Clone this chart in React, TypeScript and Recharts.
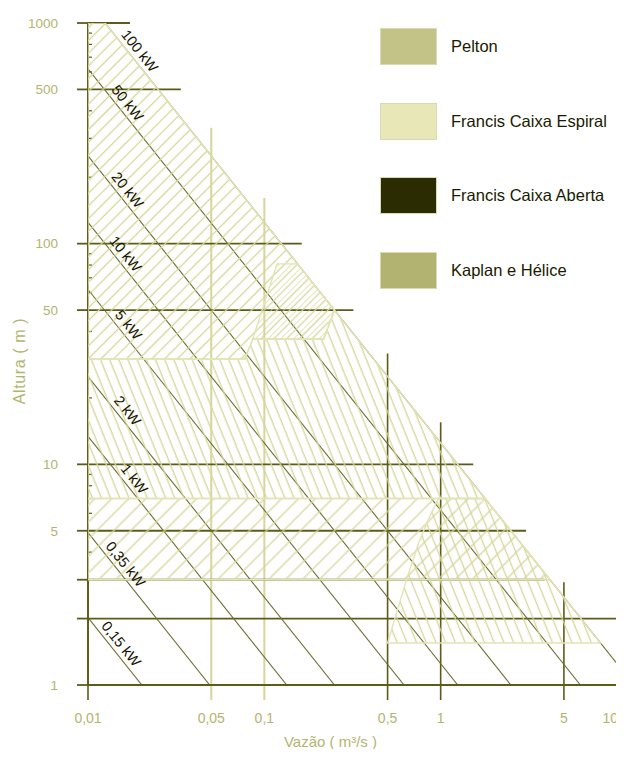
import React from 'react';
import { ComposedChart, XAxis, YAxis, Line, Scatter, ReferenceLine, Legend } from 'recharts';

// ---- axis ticks ----
const xMajorTicks = [0.01, 0.05, 0.1, 0.5, 1, 5, 10];
const xTickLabels = ['0,01', '0,05', '0,1', '0,5', '1', '5', '10'];
const xMinorTicks = [0.02, 0.03, 0.04, 0.06, 0.07, 0.08, 0.09, 0.2, 0.3, 0.4, 0.6, 0.7, 0.8, 0.9, 2, 3, 4, 6, 7, 8, 9];
const yMajorTicks = [1, 2, 3, 5, 10, 50, 100, 500, 1000];
const yTickLabels = ['1', '', '', '5', '10', '50', '100', '500', '1000'];
const yMinorTicks = [4, 6, 7, 8, 9, 20, 30, 40, 60, 70, 80, 90, 200, 300, 400, 600, 700, 800, 900];

// ---- constant power lines (Q*H product) ----
const powerLabels = ['100 kW', '50 kW', '20 kW', '10 kW', '5 kW', '2 kW', '1 kW', '0,35 kW', '0,15 kW'];
const powerQH = [12.5, 6.2, 2.5, 1.25, 0.62, 0.25, 0.134, 0.049, 0.0202];
const powerLabelQ = [0.0178, 0.0152, 0.0152, 0.0148, 0.0154, 0.0152, 0.0166, 0.0148, 0.014];

// ---- grid lines ----
const hLineH = [1000, 500, 100, 50, 10, 5, 3, 2];
const hLineEndQ = [0.0173, 0.0336, 0.163, 0.32, 1.53, 3.05, 3.88, 10];
const vLineQ = [0.01, 0.05, 0.1, 0.5, 1, 5, 10];
const vLineTopH = [1000, 335, 161, 31.8, 15.5, 2.92, 1.25];
const vLineLight = [false, true, true, false, false, false, false];
const gridBottomH = 0.855;

// ---- turbine regions (polygon vertices Q, H) ----
const peltonQ = [0.01, 0.01, 0.0125, 0.25, 0.217, 0.086, 0.0776];
const peltonH = [30, 1000, 1000, 50, 37, 37, 30];
const espiralTopQ = [0.086, 0.118, 0.154, 0.25, 0.217];
const espiralTopH = [37, 81, 81, 50, 37];
const espiralQ = [0.01, 0.01, 0.0776, 0.086, 0.217, 0.25, 1.786];
const espiralH = [7, 30, 30, 37, 37, 50, 7];
const abertaQ = [0.01, 0.01, 1.786, 4.17];
const abertaH = [3, 7, 7, 3];
const kaplanQ = [0.5, 0.64, 0.75, 0.85, 0.97, 1.786, 8.06];
const kaplanH = [1.55, 3, 4.4, 5.6, 7, 7, 1.55];

// ---- legend ----
const legendNames = ['Pelton', 'Francis Caixa Espiral', 'Francis Caixa Aberta', 'Kaplan e Hélice'];
const legendColors = ['#c3c387', '#e7e7b7', '#2c2c03', '#b3b371'];

const FONT = '"Liberation Sans", Arial, sans-serif';
const DARK = '#5c5c18';
const POWER = '#6c6c30';
const LIGHTV = '#d6d69c';
const HATCH = '#d6d69a';
const OUTLINE = '#e3e3b6';
const LABEL = '#b4b46e';

const toPoints = (qs: number[], hs: number[]) => qs.map((q, i) => ({ q, h: hs[i] }));

function makePolygon(id: string, angle: number, spacing: number, offset: number) {
  return (props: any) => {
    const pts = props.points || [];
    if (!pts.length) return <g />;
    const d = pts.map((p: any, i: number) => `${i ? 'L' : 'M'}${p.x},${p.y}`).join(' ') + ' Z';
    return (
      <g>
        <defs>
          <pattern id={id} patternUnits="userSpaceOnUse" width={spacing} height={spacing} patternTransform={`rotate(${angle})`}>
            <line x1={offset} y1={-1} x2={offset} y2={spacing + 1} stroke={HATCH} strokeWidth={1.3} />
          </pattern>
        </defs>
        <path d={d} fill={`url(#${id})`} stroke={OUTLINE} strokeWidth={1.4} />
      </g>
    );
  };
}

const regions = [
  { key: 'aberta', data: toPoints(abertaQ, abertaH), angle: 45, spacing: 12, offset: 6 },
  { key: 'espiral', data: toPoints(espiralQ, espiralH), angle: -22, spacing: 8.5, offset: 4 },
  { key: 'pelton', data: toPoints(peltonQ, peltonH), angle: 45, spacing: 9, offset: 4.5 },
  { key: 'espiralTop', data: toPoints(espiralTopQ, espiralTopH), angle: 45, spacing: 9, offset: 0 },
  { key: 'kaplan', data: toPoints(kaplanQ, kaplanH), angle: -22, spacing: 9, offset: 4.5 },
];

const powerLines = powerQH.map((qh) => {
  const q0 = Math.max(0.01, qh / 1000);
  const q1 = Math.min(10, qh / 1);
  return [{ q: q0, h: qh / q0 }, { q: q1, h: qh / q1 }];
});

const powerLabelData = powerLabels.map((text, i) => ({ q: powerLabelQ[i], h: powerQH[i] / powerLabelQ[i], text }));

const LabelShape = (props: any) => {
  const { cx, cy, payload } = props;
  if (cx == null || cy == null) return <g />;
  const x = cx + 7.5;
  const y = cy - 6;
  return (
    <text x={x} y={y} transform={`rotate(51.4 ${x} ${y})`} textAnchor="middle" dominantBaseline="central"
      fontSize={14.5} fill="#141400" fontFamily={FONT}>
      {payload && payload.text}
    </text>
  );
};

const XTick = (props: any) => {
  const { x, y, payload } = props;
  const idx = xMajorTicks.findIndex((t) => Math.abs(t - payload.value) < 1e-9 * t + 1e-12);
  const text = idx >= 0 ? xTickLabels[idx] : '';
  const last = idx === xMajorTicks.length - 1;
  return (
    <text x={last ? x + 1 : x} y={y} dy="0.71em" textAnchor={last ? 'end' : 'middle'} fontSize={14} fill={LABEL} fontFamily={FONT}>{text}</text>
  );
};

const renderLegend = () => (
  <div style={{ fontFamily: FONT }}>
    {legendNames.map((name, i) => (
      <div key={name} style={{ display: 'flex', alignItems: 'center', height: 37, marginBottom: 37.5 }}>
        <div style={{ width: 57, height: 37, background: legendColors[i], boxSizing: 'border-box', border: '1px solid #d9d9b4' }} />
        <span style={{ marginLeft: 14, fontSize: 16.5, color: '#1a1a00' }}>{name}</span>
      </div>
    ))}
  </div>
);

const blank = () => '';

export default function App() {
  return (
    <div style={{ width: 624, height: 741, margin: '0 0 0 -8px' }}>
      <ComposedChart width={624} height={741} margin={{ top: 15, right: 7, bottom: 0, left: 8 }}>
        <XAxis dataKey="q" type="number" scale="log" domain={[0.01, 10]} allowDataOverflow
          ticks={xMajorTicks} interval={0} height={64} tickLine={false} tickSize={15} tickMargin={13}
          axisLine={{ stroke: DARK, strokeWidth: 1.8 }}
          tick={XTick}
          label={{
            content: (p: any) => {
              const vb = p.viewBox || { x: 88, y: 677, width: 529, height: 64 };
              return (
                <text x={vb.x + vb.width / 2 - 22} y={vb.y + 62} textAnchor="middle" fontSize={15} fill={LABEL} fontFamily={FONT}>
                  Vazão ( m³/s )
                </text>
              );
            },
          }}
        />
        <XAxis xAxisId="minor" type="number" scale="log" domain={[0.01, 10]} allowDataOverflow mirror
          ticks={xMinorTicks} interval={0} tickFormatter={blank} tickSize={6} axisLine={false}
          tickLine={{ stroke: DARK, strokeWidth: 1.2 }} />
        <YAxis type="number" scale="log" domain={[1, 1000]} allowDataOverflow width={80}
          ticks={yMajorTicks} tickFormatter={(v: number) => yTickLabels[yMajorTicks.indexOf(v)] ?? ''}
          interval={0} tickSize={11} tickMargin={19}
          tickLine={{ stroke: DARK, strokeWidth: 1.8 }} axisLine={{ stroke: DARK, strokeWidth: 1.8 }}
          tick={{ fill: LABEL, fontSize: 13.5, fontFamily: FONT }}
          label={{
            content: (p: any) => {
              const vb = p.viewBox || { x: 8, y: 15, width: 80, height: 662 };
              const x = vb.x + 11;
              const y = vb.y + vb.height / 2 + 7;
              return (
                <text x={x} y={y} transform={`rotate(-90 ${x} ${y})`} textAnchor="middle" dominantBaseline="central"
                  fontSize={16} fill={LABEL} fontFamily={FONT} letterSpacing={0.6}>
                  Altura ( m )
                </text>
              );
            },
          }}
        />
        <YAxis yAxisId="minor" type="number" scale="log" domain={[1, 1000]} allowDataOverflow mirror
          ticks={yMinorTicks} interval={0} tickFormatter={blank} tickSize={4} axisLine={false}
          tickLine={{ stroke: DARK, strokeWidth: 1.2 }} />

        {regions.map((r) => (
          <Scatter key={r.key} data={r.data} dataKey="h" isAnimationActive={false} legendType="none"
            shape={() => <g />} line={makePolygon(`hatch-${r.key}`, r.angle, r.spacing, r.offset)} lineType="joint" />
        ))}

        {vLineQ.map((q, i) => (
          <ReferenceLine key={`v${i}`} segment={[{ x: q, y: vLineTopH[i] }, { x: q, y: gridBottomH }]}
            stroke={vLineLight[i] ? LIGHTV : DARK} strokeWidth={vLineLight[i] ? 2 : 1.6} ifOverflow="visible" />
        ))}
        {hLineH.map((h, i) => (
          <ReferenceLine key={`h${i}`} segment={[{ x: 0.01, y: h }, { x: hLineEndQ[i], y: h }]}
            stroke={DARK} strokeWidth={1.8} ifOverflow="visible" />
        ))}

        {powerLines.map((pts, i) => (
          <Line key={`p${i}`} data={pts} dataKey="h" type="linear" stroke={POWER} strokeWidth={1.1}
            dot={false} activeDot={false} isAnimationActive={false} legendType="none" />
        ))}

        <Scatter data={powerLabelData} dataKey="h" isAnimationActive={false} legendType="none" shape={LabelShape} />

        <Legend layout="horizontal" verticalAlign="middle" align="center"
          wrapperStyle={{ top: 20, left: 380, width: 244, height: 290 }} content={renderLegend} />
      </ComposedChart>
    </div>
  );
}
